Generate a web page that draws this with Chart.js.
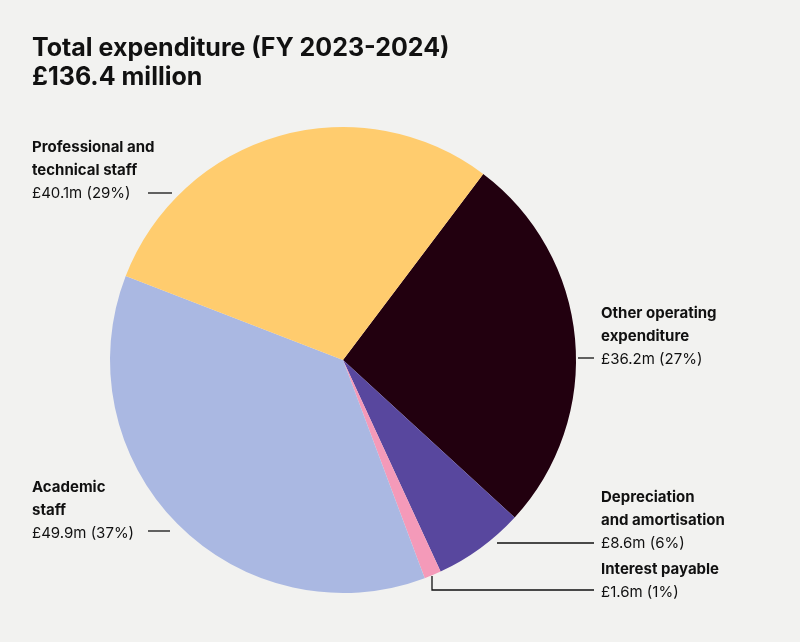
<!DOCTYPE html>
<html>
	<head>
		<meta charset="utf-8">
		<script src="https://cdn.jsdelivr.net/npm/chart.js@4"></script>
		<title>Total expenditure</title>
		<style>
			html, body { margin: 0; padding: 0; background: #f2f2f0; }
			canvas { display: block; }
		</style>
	</head>
	<body>
		<canvas id="myChart" width="800" height="642"></canvas>
		<script>
			var categories = ['Other operating expenditure', 'Depreciation and amortisation', 'Interest payable', 'Academic staff', 'Professional and technical staff'];
			var values = [36.2, 8.6, 1.6, 49.9, 40.1];
			var valueLabels = ['£36.2m (27%)', '£8.6m (6%)', '£1.6m (1%)', '£49.9m (37%)', '£40.1m (29%)'];
			var colors = ['#22000f', '#58479e', '#f49ab9', '#aab8e2', '#ffcc6e'];

			// label layout: bold lines, text x, first baseline, leader line
			var labelLayout = [
				{ lines: ['Other operating', 'expenditure'], x: 601, y: 318, line: [[578, 358], [594, 358]] },
				{ lines: ['Depreciation', 'and amortisation'], x: 601, y: 502, line: [[497, 543], [594, 543]] },
				{ lines: ['Interest payable'], x: 601, y: 574, line: [[432, 576], [432, 590], [594, 590]] },
				{ lines: ['Academic', 'staff'], x: 32, y: 492, line: [[148, 531], [170, 531]] },
				{ lines: ['Professional and', 'technical staff'], x: 32, y: 152, line: [[148, 193], [172, 193]] }
			];

			var labelsPlugin = {
				id: 'labels',
				afterDraw: function (chart) {
					var ctx = chart.ctx;
					ctx.save();
					ctx.fillStyle = '#111';
					ctx.textBaseline = 'alphabetic';
					ctx.font = 'bold 25px Inter, "Noto Sans", sans-serif';
					ctx.fillText('Total expenditure (FY 2023-2024)', 32, 56);
					ctx.fillText('£136.4 million', 32, 85);

					labelLayout.forEach(function (l, i) {
						var y = l.y;
						ctx.font = 'bold 15px Inter, "Noto Sans", sans-serif';
						l.lines.forEach(function (t) {
							ctx.fillText(t, l.x, y);
							y += 23;
						});
						ctx.font = '15px Inter, "Noto Sans", sans-serif';
						ctx.fillText(valueLabels[i], l.x, y);
						ctx.strokeStyle = '#111';
						ctx.lineWidth = 1.3;
						ctx.beginPath();
						l.line.forEach(function (p, j) {
							if (j === 0) ctx.moveTo(p[0], p[1]);
							else ctx.lineTo(p[0], p[1]);
						});
						ctx.stroke();
					});
					ctx.restore();
				}
			};

			new Chart(document.getElementById('myChart'), {
				type: 'pie',
				data: {
					labels: categories,
					datasets: [{
						data: values,
						backgroundColor: colors,
						borderWidth: 0
					}]
				},
				options: {
					responsive: false,
					animation: false,
					rotation: 37,
					layout: { padding: { top: 127, bottom: 49, left: 110, right: 224 } },
					plugins: {
						legend: { display: false },
						tooltip: { enabled: false }
					}
				},
				plugins: [labelsPlugin]
			});
		</script>
	</body>
</html>
